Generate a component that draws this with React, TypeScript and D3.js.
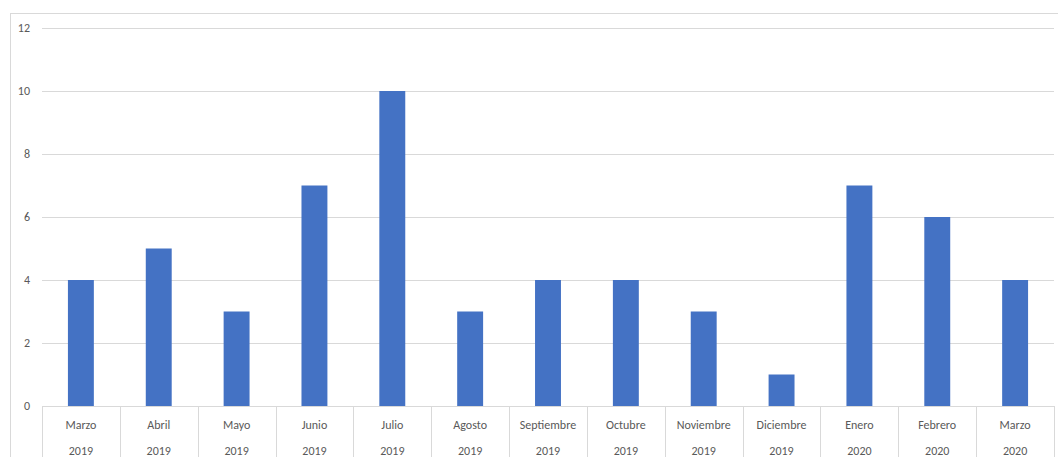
import React, { useEffect } from "react";
import * as d3 from "d3";

const months = ["Marzo", "Abril", "Mayo", "Junio", "Julio", "Agosto", "Septiembre", "Octubre", "Noviembre", "Diciembre", "Enero", "Febrero", "Marzo"];
const years = ["2019", "2019", "2019", "2019", "2019", "2019", "2019", "2019", "2019", "2019", "2020", "2020", "2020"];
const values = [4, 5, 3, 7, 10, 3, 4, 4, 3, 1, 7, 6, 4];
const yTicks = [0, 2, 4, 6, 8, 10, 12];

const W = 1058;
const H = 457;
const left = 42;
const right = 1054;
const top = 28;
const bottom = 406;

export default function App() {
  useEffect(() => {
    document.body.style.margin = "0";
  }, []);
  const idx = months.map((_, i) => i);
  const x = d3.scaleBand<number>().domain(idx).range([left, right]).paddingInner(0.667).paddingOuter(0.333);
  const xb = d3.scaleBand<number>().domain(idx).range([left, right]);
  const y = d3.scaleLinear().domain([0, 12]).range([bottom, top]);
  const font = "Carlito, 'Liberation Sans', 'Open Sans', sans-serif";
  return (
    <svg width={W} height={H} style={{ display: "block" }} fontFamily={font}>
      <rect x={0} y={0} width={W} height={H} fill="#fff" />
      <rect x={10.5} y={13.5} width={W + 10} height={H + 10} fill="none" stroke="#d9d9d9" />
      {yTicks.map((t) => (
        <g key={t}>
          {t > 0 && <line x1={left} x2={right} y1={Math.round(y(t)) + 0.5} y2={Math.round(y(t)) + 0.5} stroke="#d9d9d9" />}
          <text x={30} y={y(t)} dy="0.35em" textAnchor="end" fontSize={12} fill="#595959">{t}</text>
        </g>
      ))}
      {values.map((v, i) => (
        <rect key={i} x={x(i)} y={y(v)} width={x.bandwidth()} height={y(0) - y(v)} fill="#4472C4" />
      ))}
      <line x1={left} x2={right} y1={bottom + 0.5} y2={bottom + 0.5} stroke="#d9d9d9" />
      {idx.concat([idx.length]).map((i) => {
        const xx = Math.round(i < idx.length ? (xb(i) as number) : right) + 0.5;
        return <line key={"t" + i} x1={xx} x2={xx} y1={bottom} y2={H} stroke="#d9d9d9" />;
      })}
      {idx.map((i) => {
        const cx = (xb(i) as number) + xb.bandwidth() / 2;
        return (
          <g key={"l" + i}>
            <text x={cx} y={425} dy="0.35em" textAnchor="middle" fontSize={12} fill="#595959">{months[i]}</text>
            <text x={cx} y={451} dy="0.35em" textAnchor="middle" fontSize={12} fill="#595959">{years[i]}</text>
          </g>
        );
      })}
    </svg>
  );
}
